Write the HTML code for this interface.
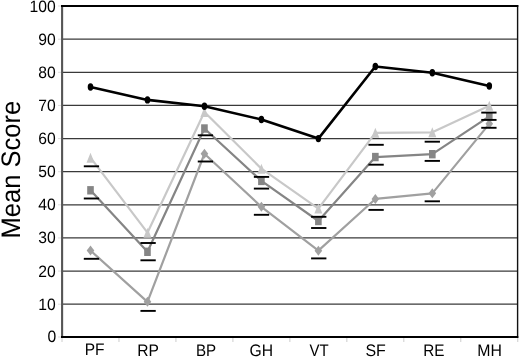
<!DOCTYPE html>
<html><head><meta charset="utf-8"><style>
html,body{margin:0;padding:0;background:#fff;}
body{width:520px;height:357px;overflow:hidden;position:relative;}
svg{position:absolute;left:0;top:0;will-change:transform;}
text{font-family:"Liberation Sans",sans-serif;fill:#000;text-rendering:geometricPrecision;}
</style></head><body>
<svg width="520" height="357" viewBox="0 0 520 357">
<line x1="62" y1="39.20" x2="517.5" y2="39.20" stroke="#3a3a3a" stroke-width="1.2"/>
<line x1="58" y1="39.20" x2="61" y2="39.20" stroke="#ddd" stroke-width="1"/>
<line x1="62" y1="72.32" x2="517.5" y2="72.32" stroke="#3a3a3a" stroke-width="1.2"/>
<line x1="58" y1="72.32" x2="61" y2="72.32" stroke="#ddd" stroke-width="1"/>
<line x1="62" y1="105.45" x2="517.5" y2="105.45" stroke="#3a3a3a" stroke-width="1.2"/>
<line x1="58" y1="105.45" x2="61" y2="105.45" stroke="#ddd" stroke-width="1"/>
<line x1="62" y1="138.57" x2="517.5" y2="138.57" stroke="#3a3a3a" stroke-width="1.2"/>
<line x1="58" y1="138.57" x2="61" y2="138.57" stroke="#ddd" stroke-width="1"/>
<line x1="62" y1="171.70" x2="517.5" y2="171.70" stroke="#3a3a3a" stroke-width="1.2"/>
<line x1="58" y1="171.70" x2="61" y2="171.70" stroke="#ddd" stroke-width="1"/>
<line x1="62" y1="204.82" x2="517.5" y2="204.82" stroke="#3a3a3a" stroke-width="1.2"/>
<line x1="58" y1="204.82" x2="61" y2="204.82" stroke="#ddd" stroke-width="1"/>
<line x1="62" y1="237.95" x2="517.5" y2="237.95" stroke="#3a3a3a" stroke-width="1.2"/>
<line x1="58" y1="237.95" x2="61" y2="237.95" stroke="#ddd" stroke-width="1"/>
<line x1="62" y1="271.07" x2="517.5" y2="271.07" stroke="#3a3a3a" stroke-width="1.2"/>
<line x1="58" y1="271.07" x2="61" y2="271.07" stroke="#ddd" stroke-width="1"/>
<line x1="62" y1="304.20" x2="517.5" y2="304.20" stroke="#3a3a3a" stroke-width="1.2"/>
<line x1="58" y1="304.20" x2="61" y2="304.20" stroke="#ddd" stroke-width="1"/>
<line x1="58" y1="6.0" x2="61" y2="6.0" stroke="#ddd" stroke-width="1"/>
<line x1="58" y1="337.0" x2="61" y2="337.0" stroke="#ddd" stroke-width="1"/>
<line x1="62.00" y1="338" x2="62.00" y2="342" stroke="#ccc" stroke-width="1"/>
<line x1="118.97" y1="338" x2="118.97" y2="342" stroke="#ccc" stroke-width="1"/>
<line x1="175.94" y1="338" x2="175.94" y2="342" stroke="#ccc" stroke-width="1"/>
<line x1="232.91" y1="338" x2="232.91" y2="342" stroke="#ccc" stroke-width="1"/>
<line x1="289.88" y1="338" x2="289.88" y2="342" stroke="#ccc" stroke-width="1"/>
<line x1="346.85" y1="338" x2="346.85" y2="342" stroke="#ccc" stroke-width="1"/>
<line x1="403.82" y1="338" x2="403.82" y2="342" stroke="#ccc" stroke-width="1"/>
<line x1="460.79" y1="338" x2="460.79" y2="342" stroke="#ccc" stroke-width="1"/>
<line x1="517.76" y1="338" x2="517.76" y2="342" stroke="#ccc" stroke-width="1"/>
<polyline points="90.50,250.55 147.47,301.85 204.44,153.75 261.41,206.85 318.38,250.65 375.35,198.95 432.32,193.35 489.29,123.85" fill="none" stroke="#a0a0a0" stroke-width="2.2" stroke-linejoin="round"/>
<polyline points="90.50,190.30 147.47,251.80 204.44,128.50 261.41,180.90 318.38,221.00 375.35,157.05 432.32,154.20 489.29,116.30" fill="none" stroke="#858585" stroke-width="2.2" stroke-linejoin="round"/>
<polyline points="90.50,157.70 147.47,232.70 204.44,112.00 261.41,168.70 318.38,208.60 375.35,132.80 432.32,132.30 489.29,105.70" fill="none" stroke="#c8c8c8" stroke-width="2.2" stroke-linejoin="round"/>
<path d="M90.50,245.55 L94.30,250.55 L90.50,255.55 L86.70,250.55 Z" fill="#a0a0a0"/>
<path d="M147.47,296.85 L151.27,301.85 L147.47,306.85 L143.67,301.85 Z" fill="#a0a0a0"/>
<path d="M204.44,148.75 L208.24,153.75 L204.44,158.75 L200.64,153.75 Z" fill="#a0a0a0"/>
<path d="M261.41,201.85 L265.21,206.85 L261.41,211.85 L257.61,206.85 Z" fill="#a0a0a0"/>
<path d="M318.38,245.65 L322.18,250.65 L318.38,255.65 L314.58,250.65 Z" fill="#a0a0a0"/>
<path d="M375.35,193.95 L379.15,198.95 L375.35,203.95 L371.55,198.95 Z" fill="#a0a0a0"/>
<path d="M432.32,188.35 L436.12,193.35 L432.32,198.35 L428.52,193.35 Z" fill="#a0a0a0"/>
<path d="M489.29,118.85 L493.09,123.85 L489.29,128.85 L485.49,123.85 Z" fill="#a0a0a0"/>
<rect x="87.20" y="186.10" width="6.6" height="8.4" fill="#858585"/>
<rect x="144.17" y="247.60" width="6.6" height="8.4" fill="#858585"/>
<rect x="201.14" y="124.30" width="6.6" height="8.4" fill="#858585"/>
<rect x="258.11" y="176.70" width="6.6" height="8.4" fill="#858585"/>
<rect x="315.08" y="216.80" width="6.6" height="8.4" fill="#858585"/>
<rect x="372.05" y="152.85" width="6.6" height="8.4" fill="#858585"/>
<rect x="429.02" y="150.00" width="6.6" height="8.4" fill="#858585"/>
<rect x="485.99" y="112.10" width="6.6" height="8.4" fill="#858585"/>
<path d="M90.50,152.70 L94.50,162.70 L86.50,162.70 Z" fill="#c8c8c8"/>
<path d="M147.47,227.70 L151.47,237.70 L143.47,237.70 Z" fill="#c8c8c8"/>
<path d="M204.44,107.00 L208.44,117.00 L200.44,117.00 Z" fill="#c8c8c8"/>
<path d="M261.41,163.70 L265.41,173.70 L257.41,173.70 Z" fill="#c8c8c8"/>
<path d="M318.38,203.60 L322.38,213.60 L314.38,213.60 Z" fill="#c8c8c8"/>
<path d="M375.35,127.80 L379.35,137.80 L371.35,137.80 Z" fill="#c8c8c8"/>
<path d="M432.32,127.30 L436.32,137.30 L428.32,137.30 Z" fill="#c8c8c8"/>
<path d="M489.29,100.70 L493.29,110.70 L485.29,110.70 Z" fill="#c8c8c8"/>
<polyline points="90.50,87.00 147.47,99.90 204.44,106.30 261.41,119.50 318.38,138.60 375.35,66.50 432.32,72.80 489.29,86.00" fill="none" stroke="#000" stroke-width="2.6" stroke-linejoin="round"/>
<ellipse cx="90.50" cy="87.00" rx="2.8" ry="3.7" fill="#000"/>
<ellipse cx="147.47" cy="99.90" rx="2.8" ry="3.7" fill="#000"/>
<ellipse cx="204.44" cy="106.30" rx="2.8" ry="3.7" fill="#000"/>
<ellipse cx="261.41" cy="119.50" rx="2.8" ry="3.7" fill="#000"/>
<ellipse cx="318.38" cy="138.60" rx="2.8" ry="3.7" fill="#000"/>
<ellipse cx="375.35" cy="66.50" rx="2.8" ry="3.7" fill="#000"/>
<ellipse cx="432.32" cy="72.80" rx="2.8" ry="3.7" fill="#000"/>
<ellipse cx="489.29" cy="86.00" rx="2.8" ry="3.7" fill="#000"/>
<line x1="83.80" y1="166.30" x2="99.10" y2="166.30" stroke="#000" stroke-width="1.9"/>
<line x1="83.80" y1="198.50" x2="99.10" y2="198.50" stroke="#000" stroke-width="1.9"/>
<line x1="83.80" y1="258.80" x2="99.10" y2="258.80" stroke="#000" stroke-width="1.9"/>
<line x1="140.45" y1="243.00" x2="155.75" y2="243.00" stroke="#000" stroke-width="1.9"/>
<line x1="140.45" y1="260.30" x2="155.75" y2="260.30" stroke="#000" stroke-width="1.9"/>
<line x1="140.45" y1="310.90" x2="155.75" y2="310.90" stroke="#000" stroke-width="1.9"/>
<line x1="197.75" y1="135.30" x2="213.05" y2="135.30" stroke="#000" stroke-width="1.9"/>
<line x1="197.75" y1="161.50" x2="213.05" y2="161.50" stroke="#000" stroke-width="1.9"/>
<line x1="253.85" y1="176.90" x2="269.15" y2="176.90" stroke="#000" stroke-width="1.9"/>
<line x1="253.85" y1="188.60" x2="269.15" y2="188.60" stroke="#000" stroke-width="1.9"/>
<line x1="253.85" y1="214.80" x2="269.15" y2="214.80" stroke="#000" stroke-width="1.9"/>
<line x1="311.10" y1="216.80" x2="326.40" y2="216.80" stroke="#000" stroke-width="1.9"/>
<line x1="311.10" y1="228.00" x2="326.40" y2="228.00" stroke="#000" stroke-width="1.9"/>
<line x1="311.10" y1="258.40" x2="326.40" y2="258.40" stroke="#000" stroke-width="1.9"/>
<line x1="368.45" y1="144.80" x2="383.75" y2="144.80" stroke="#000" stroke-width="1.9"/>
<line x1="368.45" y1="164.70" x2="383.75" y2="164.70" stroke="#000" stroke-width="1.9"/>
<line x1="368.45" y1="209.90" x2="383.75" y2="209.90" stroke="#000" stroke-width="1.9"/>
<line x1="424.65" y1="141.70" x2="439.95" y2="141.70" stroke="#000" stroke-width="1.9"/>
<line x1="424.65" y1="160.90" x2="439.95" y2="160.90" stroke="#000" stroke-width="1.9"/>
<line x1="424.65" y1="201.30" x2="439.95" y2="201.30" stroke="#000" stroke-width="1.9"/>
<line x1="481.25" y1="112.60" x2="496.55" y2="112.60" stroke="#000" stroke-width="1.9"/>
<line x1="481.25" y1="119.90" x2="496.55" y2="119.90" stroke="#000" stroke-width="1.9"/>
<line x1="481.25" y1="127.80" x2="496.55" y2="127.80" stroke="#000" stroke-width="1.9"/>
<line x1="62.1" y1="5" x2="62.1" y2="338" stroke="#555" stroke-width="2.1"/>
<line x1="517.6" y1="5" x2="517.6" y2="338" stroke="#111" stroke-width="1.4"/>
<line x1="61" y1="5.95" x2="518.3" y2="5.95" stroke="#000" stroke-width="1.9"/>
<line x1="61" y1="337" x2="518.3" y2="337" stroke="#000" stroke-width="1.9"/>
<text transform="translate(55.74,11.77) scale(0.950,1.000)" text-anchor="end" font-size="16.5">100</text>
<text transform="translate(55.74,44.82) scale(0.950,1.000)" text-anchor="end" font-size="16.5">90</text>
<text transform="translate(55.74,77.92) scale(0.950,1.000)" text-anchor="end" font-size="16.5">80</text>
<text transform="translate(55.74,110.70) scale(0.950,1.000)" text-anchor="end" font-size="16.5">70</text>
<text transform="translate(55.74,144.28) scale(0.950,1.000)" text-anchor="end" font-size="16.5">60</text>
<text transform="translate(55.74,177.30) scale(0.950,1.000)" text-anchor="end" font-size="16.5">50</text>
<text transform="translate(55.74,210.30) scale(0.950,1.000)" text-anchor="end" font-size="16.5">40</text>
<text transform="translate(55.74,243.30) scale(0.950,1.000)" text-anchor="end" font-size="16.5">30</text>
<text transform="translate(55.74,276.55) scale(0.950,1.000)" text-anchor="end" font-size="16.5">20</text>
<text transform="translate(55.74,309.81) scale(0.950,1.000)" text-anchor="end" font-size="16.5">10</text>
<text transform="translate(56.30,341.67) scale(0.950,1.000)" text-anchor="end" font-size="16.5">0</text>
<text transform="translate(94.54,354.99) scale(0.929,1.000)" text-anchor="middle" font-size="16.7">PF</text>
<text transform="translate(148.02,355.92) scale(0.935,1.000)" text-anchor="middle" font-size="16.7">RP</text>
<text transform="translate(206.07,355.90) scale(0.908,1.000)" text-anchor="middle" font-size="16.7">BP</text>
<text transform="translate(261.23,355.95) scale(0.939,1.000)" text-anchor="middle" font-size="16.7">GH</text>
<text transform="translate(319.17,355.87) scale(0.897,1.000)" text-anchor="middle" font-size="16.7">VT</text>
<text transform="translate(375.59,355.93) scale(0.957,1.000)" text-anchor="middle" font-size="16.7">SF</text>
<text transform="translate(433.82,355.90) scale(0.917,1.000)" text-anchor="middle" font-size="16.7">RE</text>
<text transform="translate(489.67,355.90) scale(0.949,1.000)" text-anchor="middle" font-size="16.7">MH</text>
<text transform="translate(20.00,169.70) rotate(-90) scale(0.952,1.000)" text-anchor="middle" font-size="26.8">Mean Score</text>
</svg>
</body></html>
